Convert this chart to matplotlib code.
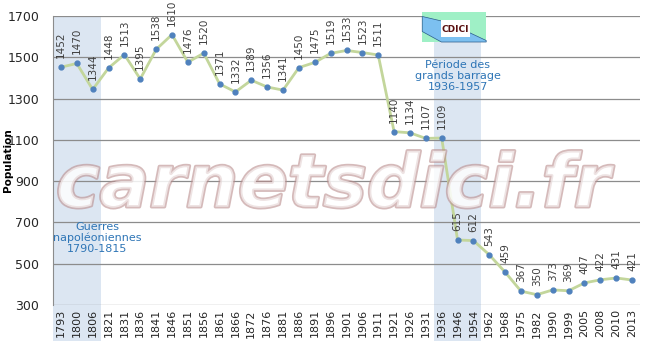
import matplotlib
matplotlib.use("Agg")
import matplotlib.pyplot as plt
import matplotlib.patheffects as pe
from matplotlib.patches import Rectangle, Polygon
import matplotlib.transforms as mtransforms

years = ["1793", "1800", "1806", "1821", "1831", "1836", "1841", "1846", "1851", "1856",
         "1861", "1866", "1872", "1876", "1881", "1886", "1891", "1896", "1901", "1906",
         "1911", "1921", "1926", "1931", "1936", "1946", "1954", "1962", "1968", "1975",
         "1982", "1990", "1999", "2005", "2008", "2010", "2013"]
population = [1452, 1470, 1344, 1448, 1513, 1395, 1538, 1610, 1476, 1520,
              1371, 1332, 1389, 1356, 1341, 1450, 1475, 1519, 1533, 1523,
              1511, 1140, 1134, 1107, 1109, 615, 612, 543, 459, 367,
              350, 373, 369, 407, 422, 431, 421]
yticks = [300, 500, 700, 900, 1100, 1300, 1500, 1700]
period1 = ("1793", "1806")
period2 = ("1936", "1954")

fig = plt.figure(figsize=(6.5, 3.43), dpi=100)
ax = fig.add_axes([53/650, 1-305/343, 587/650, 289/343])
x = list(range(len(years)))

band = "#dce6f2"
trans = mtransforms.blended_transform_factory(ax.transData, ax.transAxes)
i0, i1 = years.index(period1[0]), years.index(period1[1])
ax.add_patch(Rectangle((i0-0.5, -0.125), i1-i0+1, 1.125, transform=trans,
                       facecolor=band, edgecolor="none", clip_on=False, zorder=0))
j0, j1 = years.index(period2[0]), years.index(period2[1])
ax.add_patch(Rectangle((j0-0.5, -0.125), j1-j0+1, 1.035, transform=trans,
                       facecolor=band, edgecolor="none", clip_on=False, zorder=0))

for yt in yticks:
    ax.axhline(yt, color="#8c8c8c", lw=0.9, zorder=1)

ax.plot(x, population, color="#c3d69b", lw=2, zorder=3)
ax.plot(x, population, "o", color="#4f81bd", ms=3.5, zorder=4)
for xi, v in zip(x, population):
    ax.annotate(str(v), (xi, v), xytext=(0, 6.5), textcoords="offset points",
                rotation=90, ha="center", va="bottom", fontsize=7.5,
                color="#404040", zorder=5)

ax.set_xlim(-0.5, len(years)-0.5)
ax.set_ylim(300, 1700)
ax.set_yticks(yticks)
ax.set_xticks(x)
ax.set_xticklabels(years, rotation=90, fontsize=8, color="#262626")
ax.tick_params(axis="y", labelsize=9, length=0, pad=10, colors="#262626")
ax.tick_params(axis="x", length=0, pad=3)
for s in ["top", "right", "bottom"]:
    ax.spines[s].set_visible(False)
ax.spines["left"].set_color("#8c8c8c")
ax.set_facecolor("none")
ax.set_ylabel("Population", fontsize=7.5, fontweight="bold")
ax.yaxis.set_label_coords(-0.068, 0.5)

ax.text(25.0, 1409, "Période des\ngrands barrage\n1936-1957", ha="center", va="center",
        fontsize=8, color="#2e75b6", linespacing=1.1, zorder=6)
ax.text(2.3, 625, "Guerres\nnapoléoniennes\n1790-1815", ha="center", va="center",
        fontsize=8, color="#2e75b6", linespacing=1.1, zorder=6)

# logo
lx, ly, lw, lh = 0.629, 0.910, 0.109, 0.104
ax.add_patch(Rectangle((lx, ly), lw, lh, transform=ax.transAxes, facecolor="#9ff0c6",
                       edgecolor="none", clip_on=False, zorder=6))
ax.add_patch(Polygon([(lx, ly+lh*0.85), (lx+lw*0.3, ly+lh*0.7), (lx+lw*0.7, ly+lh*0.35),
                      (lx+lw, ly+lh*0.05), (lx+lw, ly), (lx+lw*0.3, ly), (lx, ly+lh*0.35)],
                     closed=True, transform=ax.transAxes, facecolor="#7cc0f0",
                     edgecolor="#2a5a8a", lw=0.5, clip_on=False, zorder=6))
ax.add_patch(Rectangle((lx+lw*0.3, ly+lh*0.18), lw*0.45, lh*0.55, transform=ax.transAxes,
                       facecolor="white", edgecolor="none", clip_on=False, zorder=6))
ax.text(lx+lw*0.52, ly+lh*0.42, "CDICI", transform=ax.transAxes, ha="center", va="center",
        fontsize=6.5, fontweight="bold", color="#5a1010", zorder=7)

# watermark
ax.text(0.477, 0.34, "carnetsdici.fr", transform=ax.transAxes, ha="center", va="baseline",
        fontsize=53, fontweight="bold", style="italic",
        color="white", alpha=0.6, zorder=8,
        path_effects=[pe.withStroke(linewidth=2.5, foreground="#b98d8d")])

fig.savefig("out.png", dpi=100)
